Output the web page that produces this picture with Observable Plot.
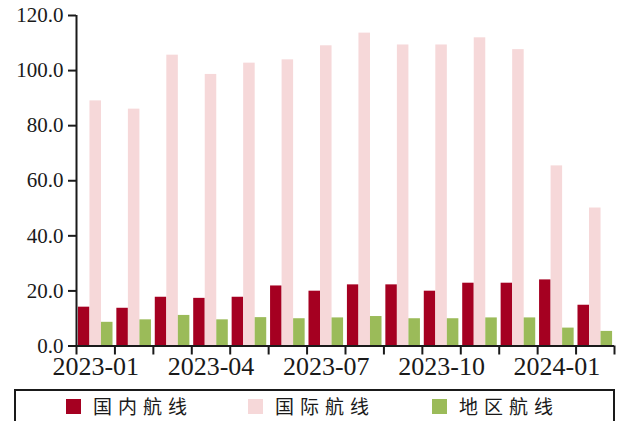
<!DOCTYPE html>
<html>
<head>
<meta charset="utf-8">
<script src="https://cdn.jsdelivr.net/npm/d3@7"></script>
<script src="https://cdn.jsdelivr.net/npm/@observablehq/plot@0.6"></script>
<style>
  html, body { margin: 0; padding: 0; background: #fff; }
  #wrap { position: relative; width: 621px; height: 421px; overflow: hidden; }
  #legend { position: absolute; left: 14px; top: 389px; width: 601px; height: 32px;
            border: 2px solid #1a1a1a; border-bottom: none; box-sizing: border-box; }
  .item { position: absolute; top: 5px; height: 20px; line-height: 20px; display: flex; align-items: center;
          font-family: "Noto Sans CJK SC", sans-serif; font-size: 19px; letter-spacing: 6px; color: #1a1a1a; }
  .sw { width: 15px; height: 15px; margin-right: 12px; }
</style>
</head>
<body>
<div id="wrap">
  <div id="chart"></div>
  <div id="legend"></div>
</div>
<script>
const months = ["2023-01","2023-02","2023-03","2023-04","2023-05","2023-06","2023-07",
                "2023-08","2023-09","2023-10","2023-11","2023-12","2024-01","2024-02"];
const domestic      = [14.1, 13.7, 17.7, 17.3, 17.7, 21.8, 19.9, 22.2, 22.2, 19.9, 22.8, 22.8, 24.0, 14.8];
const international = [89.0, 86.0, 105.6, 98.6, 102.7, 103.9, 109.0, 113.6, 109.3, 109.3, 111.9, 107.6, 65.4, 50.1];
const regional      = [8.6, 9.5, 11.1, 9.5, 10.3, 9.9, 10.2, 10.7, 9.9, 9.9, 10.2, 10.2, 6.5, 5.3];
const seriesNames   = ["国内航线", "国际航线", "地区航线"];
const seriesColors  = ["#A50021", "#F6D8D9", "#9BBB59"];
const tickLabels    = ["2023-01","2023-04","2023-07","2023-10","2024-01"];
const yTicks        = [0, 20, 40, 60, 80, 100, 120];

const seriesValues = [domestic, international, regional];
const rows = [];
seriesValues.forEach((vals, j) => {
  vals.forEach((v, i) => rows.push({month: months[i], i, j, series: seriesNames[j], value: v}));
});

// layout of bars within each month slot (fractions of a slot)
const groupPad = 0.05, barW = 0.3;

const chart = Plot.plot({
  width: 621,
  height: 385,
  marginLeft: 76,
  marginRight: 7,
  marginTop: 15,
  marginBottom: 39.5,
  style: {fontFamily: "'Liberation Serif', 'DejaVu Serif', serif", color: "#1a1a1a", background: "#fff"},
  x: {type: "linear", domain: [0, months.length]},
  y: {domain: [0, 120]},
  color: {domain: seriesNames, range: seriesColors},
  marks: [
    Plot.rect(rows, {
      x1: d => d.i + groupPad + d.j * barW,
      x2: d => d.i + groupPad + (d.j + 1) * barW,
      y1: 0,
      y2: "value",
      fill: "series"
    }),
    Plot.axisY({ticks: yTicks, tickFormat: d3.format(".1f"), tickSize: 8, tickPadding: 5,
                fontSize: 21, strokeWidth: 2, label: null}),
    Plot.axisX({ticks: d3.range(months.length + 1), tickFormat: () => "", tickSize: 9,
                strokeWidth: 2, label: null}),
    Plot.axisX({ticks: tickLabels.map(l => months.indexOf(l) + 0.5),
                tickFormat: d => months[Math.floor(d)], tickSize: 0, tickPadding: 11,
                fontSize: 26, label: null}),
    Plot.ruleX([0], {strokeWidth: 2, stroke: "#1a1a1a"}),
    Plot.ruleY([0], {strokeWidth: 2, stroke: "#1a1a1a"})
  ]
});
document.getElementById("chart").appendChild(chart);

const legend = document.getElementById("legend");
const legendX = [50, 232, 416];
seriesNames.forEach((name, k) => {
  const it = document.createElement("div");
  it.className = "item";
  it.style.left = legendX[k] + "px";
  const sw = document.createElement("span");
  sw.className = "sw";
  sw.style.background = seriesColors[k];
  const tx = document.createElement("span");
  tx.textContent = name;
  it.appendChild(sw);
  it.appendChild(tx);
  legend.appendChild(it);
});
</script>
</body>
</html>
